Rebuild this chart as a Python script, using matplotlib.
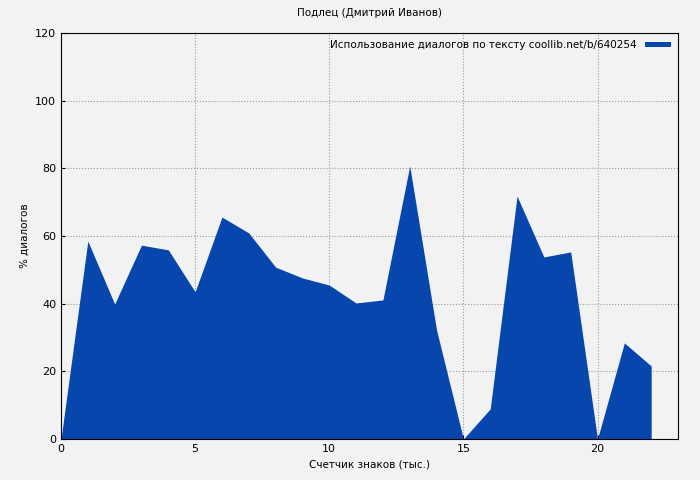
import numpy as np
import matplotlib.pyplot as plt

# data
x_vals = list(range(0, 23))
y_vals = [0, 58.5, 39.9, 57.3, 55.9, 43.5, 65.6, 60.9, 50.8, 47.6, 45.5, 40.2,
          41.1, 80.7, 32.2, 0, 8.9, 71.8, 53.8, 55.3, 0, 28.4, 21.6]
legend_label = "Использование диалогов по тексту coollib.net/b/640254"

fig = plt.figure(figsize=(7, 4.8), dpi=100, facecolor='#f2f2f2')
ax = fig.add_axes([61/700, 41/480, 617/700, 406/480])
ax.set_facecolor('#f2f2f2')

ax.fill_between(x_vals, y_vals, 0, color='#0646ad', lw=0, label=legend_label)

ax.set_xlim(0, 23)
ax.set_ylim(0, 120)
ax.set_xticks([0, 5, 10, 15, 20])
ax.set_yticks(range(0, 121, 20))
ax.tick_params(labelsize=8, direction='in', length=3)
ax.grid(True, color='#999999', linestyle=':', linewidth=0.8)
ax.set_axisbelow(True)

ax.set_title('Подлец (Дмитрий Иванов)', fontsize=7.5, pad=12)
ax.set_xlabel('Счетчик знаков (тыс.)', fontsize=7.5)
ax.set_ylabel('% диалогов', fontsize=7.5)

leg = ax.legend(loc='upper right', fontsize=7.5, frameon=False, markerfirst=False,
                handlelength=2.5, handleheight=0.4, borderaxespad=0.3)

fig.savefig('out.png', dpi=100, facecolor=fig.get_facecolor())
